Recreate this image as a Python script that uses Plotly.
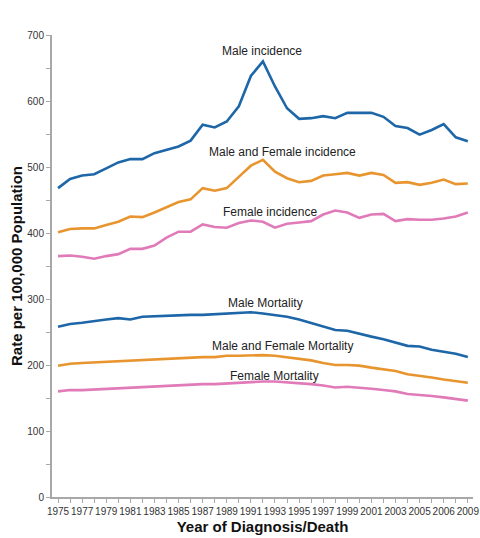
import plotly.graph_objects as go

years = list(range(1975, 2010))

male_incidence = [468, 482, 487, 489, 498, 507, 512, 512, 521, 526, 531, 540, 564, 560, 569, 592, 638, 660, 622, 589, 573, 574, 577, 574, 582, 582, 582, 576, 562, 559, 549, 556, 565, 545, 539]
both_incidence = [401, 406, 407, 407, 412, 417, 425, 424, 431, 439, 447, 451, 468, 464, 468, 485, 502, 511, 493, 483, 477, 479, 487, 489, 491, 487, 491, 488, 476, 477, 473, 476, 481, 474, 475]
female_incidence = [365, 366, 364, 361, 365, 368, 376, 376, 381, 393, 402, 402, 413, 409, 408, 415, 419, 417, 408, 414, 416, 418, 428, 434, 431, 423, 428, 429, 418, 421, 420, 420, 422, 425, 431]
male_mortality = [258, 262, 264, 267, 269, 271, 269, 273, 274, 275, 276, 276, 276, 277, 278, 280, 280, 278, 276, 273, 269, 264, 258, 253, 252, 247, 243, 239, 234, 229, 228, 223, 220, 217, 212]
both_mortality = [199, 202, 203, 204, 204, 206, 206, 208, 209, 210, 211, 211, 212, 212, 214, 214, 215, 215, 214, 212, 210, 207, 203, 200, 200, 199, 196, 194, 191, 186, 184, 181, 178, 175, 173]
female_mortality = [160, 162, 162, 163, 163, 164, 165, 166, 167, 169, 170, 171, 171, 171, 172, 174, 175, 175, 175, 174, 173, 171, 169, 166, 167, 166, 164, 162, 160, 156, 155, 153, 151, 149, 146]

tick_labels = ["1975", "1977", "1979", "1981", "1983", "1985", "1987", "1989", "1991",
               "1993", "1995", "1997", "1999", "2001", "2003", "2005", "2006", "2009"]

series_names = ["Male incidence", "Male and Female incidence", "Female incidence",
                "Male Mortality", "Male and Female Mortality", "Female Mortality"]
series_values = [male_incidence, both_incidence, female_incidence,
                 male_mortality, both_mortality, female_mortality]

label_x = [1991.9, 1993.6, 1992.6, 1992.2, 1993.6, 1993.0]
label_y = [676, 523, 432, 294, 229, 184]

BLUE = "#1d66a8"
ORANGE = "#e8952f"
PINK = "#e07ab8"
colors = [BLUE, ORANGE, PINK, BLUE, ORANGE, PINK]

fig = go.Figure()
for name, vals, c in zip(series_names, series_values, colors):
    fig.add_trace(go.Scatter(x=years, y=vals, mode="lines", name=name,
                             line=dict(color=c, width=2.6), hoverinfo="x+y+name"))

for name, lx, ly in zip(series_names, label_x, label_y):
    fig.add_annotation(x=lx, y=ly, text=name, showarrow=False,
                       font=dict(size=12, color="#222222"), xanchor="center", yanchor="middle")

# labels only on every other year
ticktext = []
li = 0
for i, y in enumerate(years):
    if i % 2 == 0:
        ticktext.append(tick_labels[li])
        li += 1
    else:
        ticktext.append("")

fig.update_layout(
    width=480, height=538,
    margin=dict(l=52, r=7, t=35, b=41),
    plot_bgcolor="white", paper_bgcolor="white",
    showlegend=False,
    font=dict(family="Liberation Sans, Arial, sans-serif", color="#333333"),
    xaxis=dict(
        range=[1974.5, 2009.43], tickvals=years, ticktext=ticktext,
        showgrid=False, zeroline=False, showline=True, linecolor="#a8a8a8", linewidth=2,
        ticks="outside", ticklen=4, tickcolor="#a8a8a8", tickwidth=1,
        tickfont=dict(size=10, color="#333333"), tickangle=0, ticklabeloverflow="allow",
        title=dict(text="<b>Year of Diagnosis/Death</b>", font=dict(size=15, color="#111111"), standoff=5),
        automargin=False,
    ),
    yaxis=dict(
        range=[0, 700], tickvals=[0, 100, 200, 300, 400, 500, 600, 700],
        showgrid=False, zeroline=False, showline=True, linecolor="#a8a8a8", linewidth=2,
        ticks="outside", ticklen=4, tickcolor="#a8a8a8", tickwidth=1,
        tickfont=dict(size=10, color="#333333"),
        minor=dict(ticks="outside", tickvals=[50, 150, 250, 350, 450, 550, 650], ticklen=4, tickcolor="#a8a8a8"),
        title=dict(text="<b>Rate per 100,000 Population</b>", font=dict(size=15, color="#111111"), standoff=1),
        automargin=False,
    ),
)

fig.write_html(
    "out.html",
    config={"displayModeBar": False},
    post_script="document.body.style.margin='0';document.body.style.overflow='hidden';",
)
